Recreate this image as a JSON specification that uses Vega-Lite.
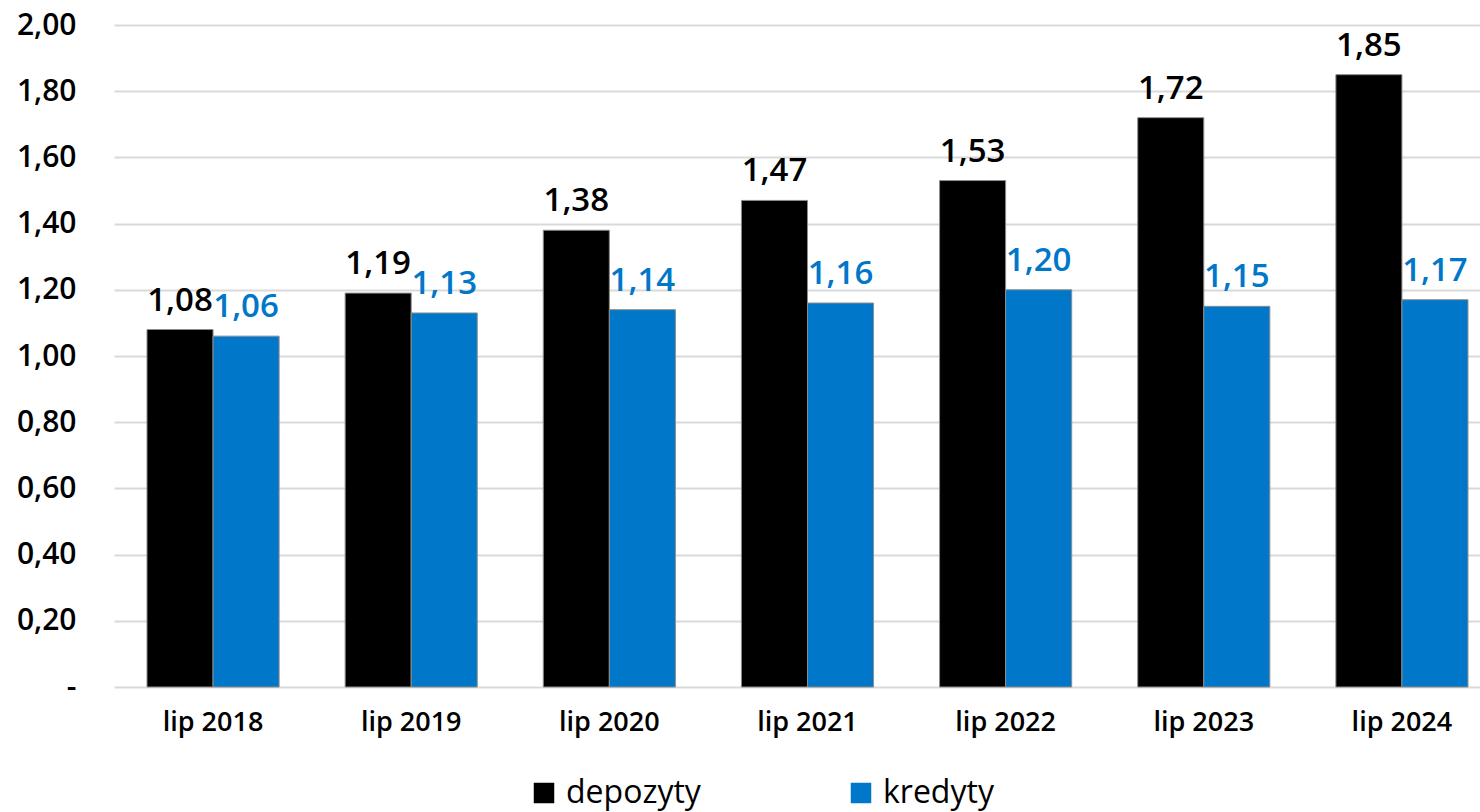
{
  "$schema": "https://vega.github.io/schema/vega-lite/v6.json",
  "width": 1366,
  "height": 662,
  "autosize": {"type": "none"},
  "padding": {"left": 114, "top": 25, "right": 0, "bottom": 125},
  "config": {
    "locale": {"number": {"decimal": ",", "thousands": " ", "grouping": [3], "currency": ["", " zł"]}},
    "view": {"stroke": null},
    "font": "Open Sans"
  },
  "data": {
    "values": [
      {"okres": "lip 2018", "seria": "depozyty", "wartosc": 1.08},
      {"okres": "lip 2018", "seria": "kredyty", "wartosc": 1.06},
      {"okres": "lip 2019", "seria": "depozyty", "wartosc": 1.19},
      {"okres": "lip 2019", "seria": "kredyty", "wartosc": 1.13},
      {"okres": "lip 2020", "seria": "depozyty", "wartosc": 1.38},
      {"okres": "lip 2020", "seria": "kredyty", "wartosc": 1.14},
      {"okres": "lip 2021", "seria": "depozyty", "wartosc": 1.47},
      {"okres": "lip 2021", "seria": "kredyty", "wartosc": 1.16},
      {"okres": "lip 2022", "seria": "depozyty", "wartosc": 1.53},
      {"okres": "lip 2022", "seria": "kredyty", "wartosc": 1.20},
      {"okres": "lip 2023", "seria": "depozyty", "wartosc": 1.72},
      {"okres": "lip 2023", "seria": "kredyty", "wartosc": 1.15},
      {"okres": "lip 2024", "seria": "depozyty", "wartosc": 1.85},
      {"okres": "lip 2024", "seria": "kredyty", "wartosc": 1.17}
    ]
  },
  "encoding": {
    "x": {
      "field": "okres", "type": "nominal", "title": null,
      "scale": {"paddingInner": 0.3333, "paddingOuter": 0.1136, "align": 0.733},
      "axis": {"labelAngle": 0, "labelFontSize": 27, "labelFontWeight": 600, "labelColor": "#000", "labelPadding": 22, "ticks": false, "domain": false}
    },
    "xOffset": {"field": "seria", "type": "nominal", "scale": {"domain": ["depozyty", "kredyty"], "paddingInner": 0, "paddingOuter": 0}},
    "y": {
      "field": "wartosc", "type": "quantitative", "title": null,
      "scale": {"domain": [0, 2], "nice": false},
      "axis": {"values": [0, 0.2, 0.4, 0.6, 0.8, 1.0, 1.2, 1.4, 1.6, 1.8, 2.0], "format": ".2f",
        "labelExpr": "datum.value == 0 ? '-' : datum.label",
        "labelFontSize": 30, "labelFontWeight": 600, "labelColor": "#000", "labelPadding": 38,
        "ticks": false, "domain": false, "gridColor": "#d9d9d9", "gridWidth": 2}
    },
    "color": {
      "field": "seria", "type": "nominal",
      "scale": {"domain": ["depozyty", "kredyty"], "range": ["#000000", "#0077c8"]},
      "legend": null
    }
  },
  "layer": [
    {
      "mark": {"type": "bar", "stroke": "#8c8c8c", "strokeWidth": 1},
      "encoding": {
        "color": {
          "field": "seria", "type": "nominal",
          "scale": {"domain": ["depozyty", "kredyty"], "range": ["#000000", "#0077c8"]},
          "legend": {
            "title": null, "orient": "none", "direction": "horizontal",
            "legendX": 414, "legendY": 752,
            "symbolType": "square", "symbolSize": 420, "symbolStrokeWidth": 0,
            "labelFontSize": 32, "labelFontWeight": 500, "labelColor": "#000",
            "labelOffset": 6, "columnPadding": 144, "labelLimit": 400
          }
        }
      }
    },
    {
      "mark": {"type": "text", "baseline": "bottom", "dy": -12, "fontSize": 33, "fontWeight": 600},
      "encoding": {
        "text": {"field": "wartosc", "type": "quantitative", "format": ".2f"}
      }
    }
  ]
}
